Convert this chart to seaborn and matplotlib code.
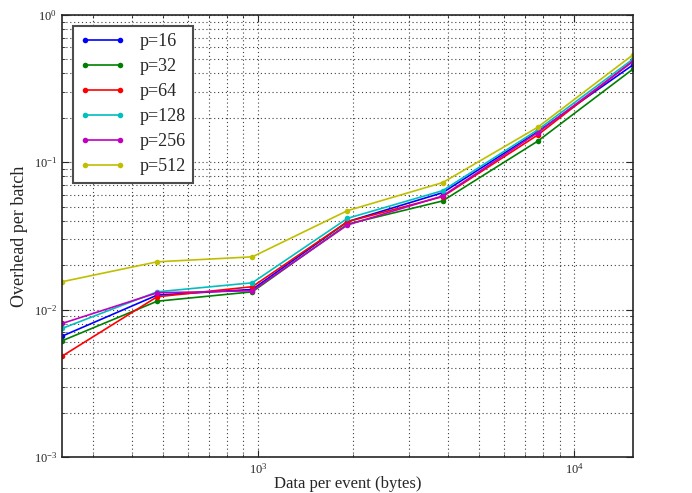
import numpy as np
import pandas as pd
import matplotlib
matplotlib.use("Agg")
import matplotlib.pyplot as plt
import seaborn as sns

# data per event (bytes)
sizes = [240, 480, 960, 1920, 3840, 7680, 15360]
labels = ["p=16", "p=32", "p=64", "p=128", "p=256", "p=512"]

p16 = [0.0066, 0.01254, 0.0137, 0.0395, 0.0621, 0.161, 0.457]
p32 = [0.00614, 0.0114, 0.0132, 0.0380, 0.0546, 0.139, 0.428]
p64 = [0.00483, 0.01222, 0.0143, 0.0395, 0.0584, 0.153, 0.487]
p128 = [0.00745, 0.0132, 0.0152, 0.0416, 0.0641, 0.1656, 0.500]
p256 = [0.00805, 0.0130, 0.01342, 0.0375, 0.0590, 0.159, 0.482]
p512 = [0.01545, 0.0211, 0.0228, 0.0469, 0.0727, 0.1726, 0.535]

series = [p16, p32, p64, p128, p256, p512]
colors = [(0, 0, 1), (0, 0.5, 0), (1, 0, 0), (0, 0.75, 0.75), (0.75, 0, 0.75), (0.75, 0.75, 0)]

rows = []
for lab, vals in zip(labels, series):
    for x, v in zip(sizes, vals):
        rows.append({"size": x, "overhead": v, "p": lab})
df = pd.DataFrame(rows)

sns.set_style("ticks")
plt.rcParams['font.family'] = ['Liberation Serif', 'DejaVu Serif']
plt.rcParams['mathtext.fontset'] = 'stix'
plt.rcParams['xtick.direction'] = 'in'
plt.rcParams['ytick.direction'] = 'in'

fig = plt.figure(figsize=(6.92, 4.93), dpi=100)
ax = fig.add_axes([0.0896, 0.073, 0.825, 0.897])

sns.lineplot(data=df, x="size", y="overhead", hue="p", hue_order=labels,
             palette=colors, marker="o", markersize=4, markeredgewidth=0,
             linewidth=1.2, ax=ax)

ax.set_xscale("log")
ax.set_yscale("log")
ax.set_xlim(sizes[0], sizes[-1])
ax.set_ylim(1e-3, 1)

ax.grid(True, which="both", linestyle=(0, (1, 2.5)), color="0.25", linewidth=0.8)
ax.tick_params(which="both", top=True, right=True, labelsize=9)
ax.tick_params(which="major", length=5)
ax.tick_params(which="minor", length=2.5)
for s in ax.spines.values():
    s.set_linewidth(1.2)

ax.set_xlabel("Data per event (bytes)", fontsize=12, labelpad=0)
ax.set_ylabel("Overhead per batch", fontsize=13)

h, l = ax.get_legend_handles_labels()
leg = ax.legend(h, l, loc="upper left", numpoints=2, fontsize=13,
                fancybox=False, framealpha=1, edgecolor="0.3",
                handlelength=2.5, labelspacing=0.45, borderaxespad=0.6)
leg.get_frame().set_linewidth(1.5)

fig.savefig("out.png", dpi=100)
